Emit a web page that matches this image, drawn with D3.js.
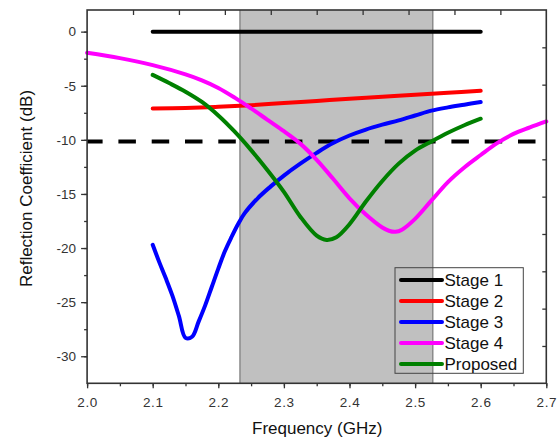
<!DOCTYPE html>
<html><head><meta charset="utf-8">
<script src="https://cdn.jsdelivr.net/npm/d3@7"></script>
<style>body{margin:0;background:#fff}svg{display:block;font-family:"Liberation Sans",Arial,sans-serif}</style>
</head><body><svg id="c" width="558" height="439"></svg>
<script>
const xTicks = [2.0,2.1,2.2,2.3,2.4,2.5,2.6,2.7];
const yTicks = [0,-5,-10,-15,-20,-25,-30];
const band = [2.233, 2.527];
const threshold = -10.15;
const legendNames = ["Stage 1","Stage 2","Stage 3","Stage 4","Proposed"];
const colors = ["#000000","#ff0000","#0000ff","#ff00ff","#008000"];

const stage1F = [2.10, 2.60];
const stage1V = [0, 0];
const stage2F = [2.10,2.15,2.20,2.25,2.30,2.35,2.40,2.45,2.50,2.55,2.60];
const stage2V = [-7.1,-7.05,-6.95,-6.8,-6.6,-6.4,-6.2,-6.02,-5.83,-5.65,-5.47];
const stage3F = [2.10,2.11,2.12,2.13,2.14,2.15,2.16,2.17,2.18,2.19,2.20,2.21,2.22,2.23,2.24,2.26,2.28,2.30,2.325,2.35,2.375,2.40,2.425,2.45,2.475,2.50,2.525,2.55,2.575,2.60];
const stage3V = [-19.7,-21.3,-22.8,-24.4,-26.3,-28.3,-28.2,-26.8,-25.3,-23.6,-21.9,-20.3,-19.0,-17.8,-16.8,-15.4,-14.3,-13.3,-12.2,-11.2,-10.3,-9.6,-9.05,-8.6,-8.2,-7.75,-7.3,-7.0,-6.75,-6.5];
const stage4F = [2.00,2.05,2.10,2.15,2.175,2.20,2.225,2.25,2.275,2.30,2.325,2.35,2.375,2.40,2.425,2.45,2.46,2.47,2.48,2.50,2.525,2.55,2.575,2.60,2.625,2.65,2.675,2.70];
const stage4V = [-1.95,-2.45,-3.1,-3.95,-4.5,-5.2,-6.1,-7.1,-8.15,-9.2,-10.35,-11.85,-13.6,-15.4,-16.9,-18.1,-18.4,-18.5,-18.3,-17.3,-15.6,-13.9,-12.55,-11.4,-10.3,-9.45,-8.85,-8.3];
const proposedF = [2.10,2.125,2.15,2.175,2.20,2.225,2.25,2.275,2.30,2.325,2.35,2.365,2.38,2.40,2.425,2.45,2.475,2.50,2.525,2.55,2.575,2.60];
const proposedV = [-4.0,-4.75,-5.55,-6.5,-7.75,-9.25,-10.95,-12.8,-14.8,-17.1,-18.85,-19.25,-19.0,-17.8,-15.7,-13.8,-12.2,-11.0,-10.15,-9.35,-8.65,-8.05];

const seriesF = [stage1F, stage2F, stage3F, stage4F, proposedF];
const seriesV = [stage1V, stage2V, stage3V, stage4V, proposedV];

const svg = d3.select("#c");
const L = 87.1, R = 546.3, T = 10, B = 383.3;
const x = d3.scaleLinear().domain([2.0, 2.7]).range([L, R]);
const y = d3.scaleLinear().domain([-32.5, 2]).range([B, T]);

// band
svg.append("rect").attr("x", x(band[0])).attr("y", T).attr("width", x(band[1]) - x(band[0])).attr("height", B - T)
  .attr("fill", "#c0c0c0");
band.forEach(b => svg.append("line").attr("x1", x(b)).attr("x2", x(b)).attr("y1", T).attr("y2", B)
  .attr("stroke", "#7f7f7f").attr("stroke-width", 1.3));

// axes
const axColor = "#333";
const gB = svg.append("g").attr("transform", `translate(0,${B})`)
  .call(d3.axisBottom(x).tickValues(d3.range(2.0, 2.701, 0.05)).tickSize(3).tickFormat(""));
const gB2 = svg.append("g").attr("transform", `translate(0,${B})`)
  .call(d3.axisBottom(x).tickValues(xTicks).tickSize(5).tickPadding(9).tickFormat(d3.format(".1f")));
const gL = svg.append("g").attr("transform", `translate(${L},0)`)
  .call(d3.axisLeft(y).tickValues(d3.range(-30, 0.01, 2.5)).tickSize(3).tickFormat(""));
const gL2 = svg.append("g").attr("transform", `translate(${L},0)`)
  .call(d3.axisLeft(y).tickValues(yTicks).tickSize(6).tickPadding(5).tickFormat(d => d));
const xTop = d3.scaleLinear().domain([0, 10]).range([L, R]);
const yRight = d3.scaleLinear().domain([0, 10]).range([T, B]);
const gT = svg.append("g").attr("transform", `translate(0,${T})`)
  .call(d3.axisBottom(xTop).ticks(10).tickSize(5).tickFormat(""));
const gR = svg.append("g").attr("transform", `translate(${R},0)`)
  .call(d3.axisLeft(yRight).ticks(10).tickSize(4).tickFormat(""));
[gB, gB2, gL, gL2, gT, gR].forEach(g => {
  g.select(".domain").remove();
  g.selectAll(".tick line").attr("stroke", axColor).attr("stroke-width", 1.3);
  g.selectAll(".tick text").attr("fill", "#333").attr("font-size", 13.5).attr("font-family", "Liberation Sans, Arial, sans-serif");
});
gB2.selectAll(".tick text").attr("letter-spacing", 0.6);
gR.selectAll(".tick").filter((d) => d === 0 || d === 10).remove();
gT.selectAll(".tick").filter((d) => d === 0 || d === 10).remove();

// threshold dashed
svg.append("line").attr("x1", x(2.0)).attr("x2", x(2.7)).attr("y1", y(threshold)).attr("y2", y(threshold))
  .attr("stroke", "#000").attr("stroke-width", 4).attr("stroke-dasharray", "17.5,15.8").attr("stroke-dashoffset", 2);

// curves
const line = d3.line().x(d => x(d[0])).y(d => y(d[1])).curve(d3.curveCatmullRom.alpha(0.5));
seriesF.forEach((F, i) => {
  const pts = F.map((f, j) => [f, seriesV[i][j]]);
  svg.append("path").attr("d", line(pts)).attr("fill", "none").attr("stroke", colors[i])
    .attr("stroke-width", 4).attr("stroke-linejoin", "round").attr("stroke-linecap", "round");
});

// frame
svg.append("rect").attr("x", L).attr("y", T).attr("width", R - L).attr("height", B - T)
  .attr("fill", "none").attr("stroke", axColor).attr("stroke-width", 1.6);

// titles
svg.append("text").attr("x", (x(2.0) + x(2.7)) / 2 + 0.5).attr("y", 434).attr("text-anchor", "middle")
  .attr("font-size", 17).attr("fill", "#111").text("Frequency (GHz)");
svg.append("text").attr("transform", "translate(32,188.5) rotate(-90)").attr("text-anchor", "middle")
  .attr("font-size", 17).attr("fill", "#111").text("Reflection Coefficient (dB)");

// legend
const lg = svg.append("g");
lg.append("rect").attr("x", 395).attr("y", 267.7).attr("width", 128.3).attr("height", 105.6)
  .attr("fill", "none").attr("stroke", "#444").attr("stroke-width", 1);
legendNames.forEach((n, i) => {
  const yy = 280 + i * 21;
  lg.append("line").attr("x1", 401).attr("x2", 442).attr("y1", yy).attr("y2", yy)
    .attr("stroke", colors[i]).attr("stroke-width", 4).attr("stroke-linecap", "round");
  lg.append("text").attr("x", 444.5).attr("y", yy + 6).attr("font-size", 17).attr("fill", "#111").text(n);
});
</script></body></html>
